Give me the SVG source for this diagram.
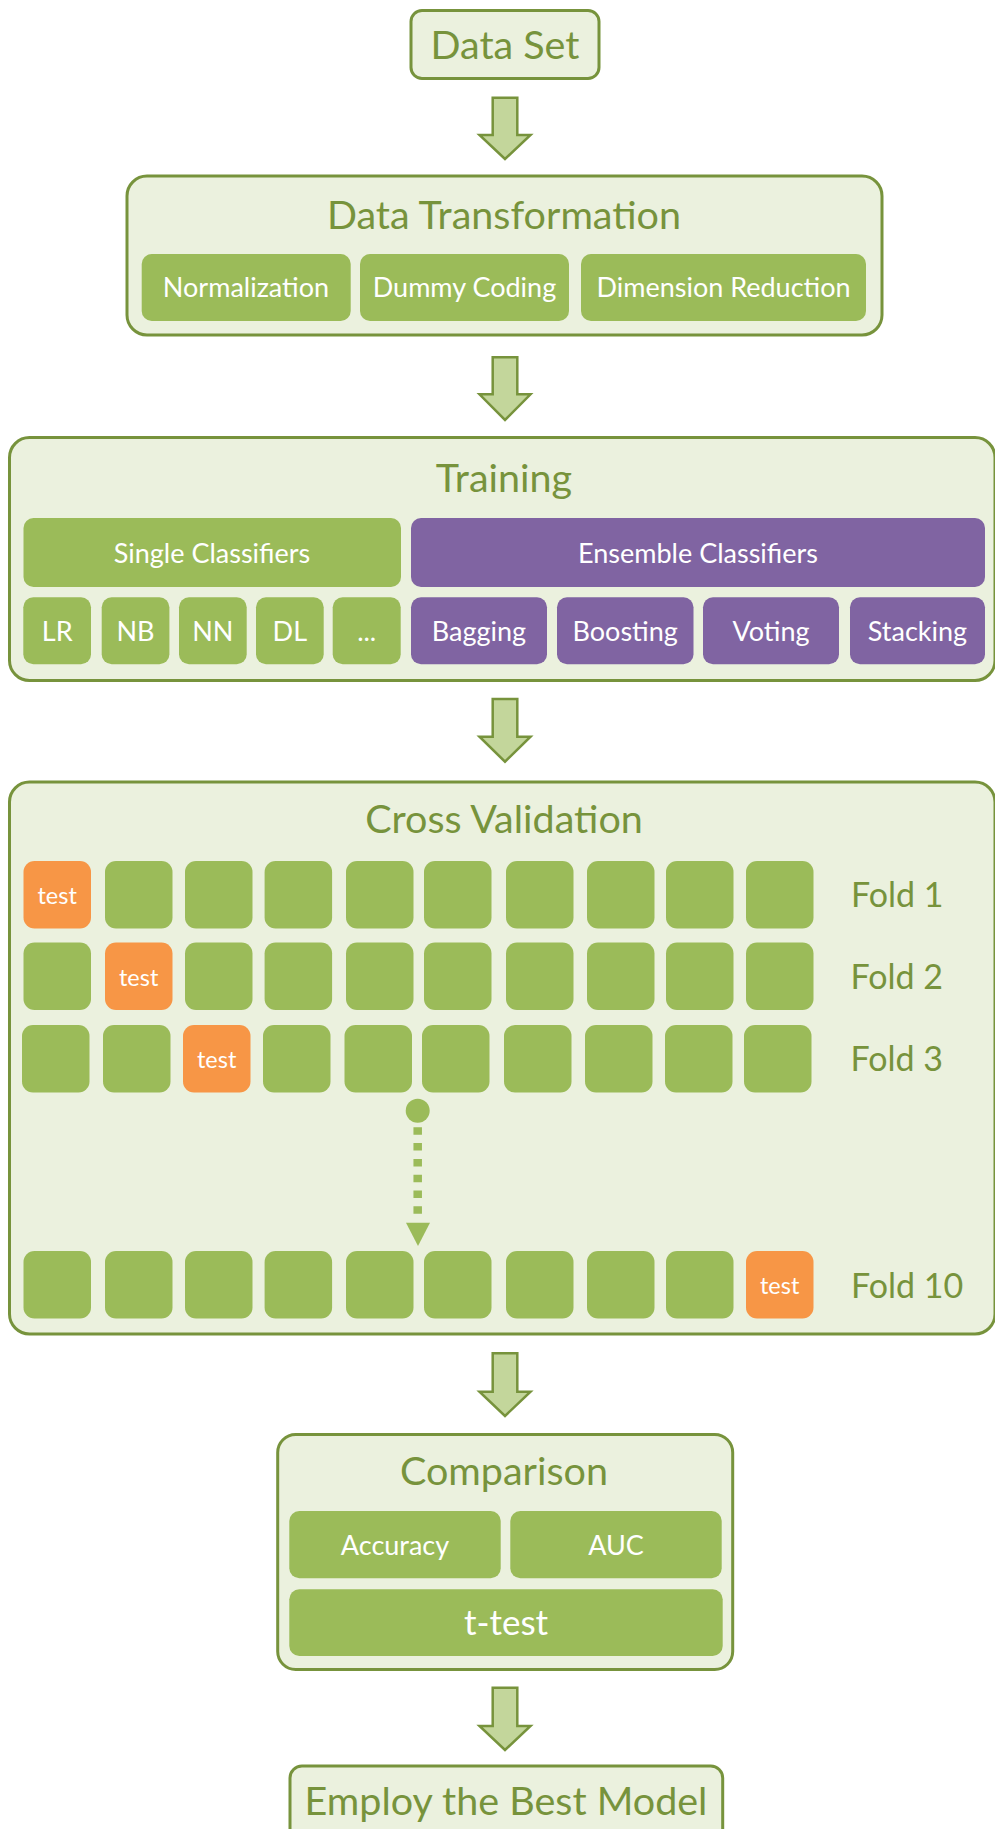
<svg xmlns="http://www.w3.org/2000/svg" width="995" height="1829" viewBox="0 0 995 1829">
<style>
  .panel { fill: #EBF1DE; stroke: #77933C; stroke-width: 3; }
  .g { fill: #9BBB59; }
  .p { fill: #8064A2; }
  .o { fill: #F79646; }
  .title { font-family: Lato, "Open Sans", sans-serif; fill: #77933C; text-anchor: middle; font-size: 39.5px; }
  .lbl { font-family: Lato, "Open Sans", sans-serif; fill: #FFFFFF; text-anchor: middle; font-size: 27px; }
  .big { font-family: Lato, "Open Sans", sans-serif; fill: #FFFFFF; text-anchor: middle; font-size: 35px; }
  .test { font-family: Lato, "Open Sans", sans-serif; fill: #FFFFFF; text-anchor: middle; font-size: 23.5px; }
  .fold { font-family: Lato, "Open Sans", sans-serif; fill: #77933C; font-size: 34px; }
  .arrow { fill: #C3D69B; stroke: #77933C; stroke-width: 2.5; stroke-linejoin: miter; }
</style>
<rect width="995" height="1829" fill="#FFFFFF"/>

<g id="connectors">
  <polygon class="arrow" points="492.7,97.7 517.3,97.7 517.3,135 530.5,135 505,159 479.5,135 492.7,135"/>
  <polygon class="arrow" points="492.7,357.3 517.3,357.3 517.3,394.3 530.5,394.3 505,420 479.5,394.3 492.7,394.3"/>
  <polygon class="arrow" points="492.7,699 517.3,699 517.3,736.7 530.5,736.7 505,761.7 479.5,736.7 492.7,736.7"/>
  <polygon class="arrow" points="492.7,1353.3 517.3,1353.3 517.3,1391.7 530.5,1391.7 505,1416 479.5,1391.7 492.7,1391.7"/>
  <polygon class="arrow" points="492.7,1687.7 517.3,1687.7 517.3,1726 530.5,1726 505,1750 479.5,1726 492.7,1726"/>
</g>

<g id="data-set">
  <rect class="panel" x="411" y="10.5" width="188" height="68" rx="11"/>
  <text class="title" x="505" y="59">Data Set</text>
</g>

<g id="data-transformation">
  <rect class="panel" x="127" y="176" width="755" height="159" rx="20"/>
  <text class="title" x="504" y="229">Data Transformation</text>
  <g id="normalization">
    <rect class="g" x="141.7" y="254" width="209" height="67" rx="10"/>
    <text class="lbl" x="246" y="297">Normalization</text>
  </g>
  <g id="dummy-coding">
    <rect class="g" x="360" y="254" width="209" height="67" rx="10"/>
    <text class="lbl" x="464.5" y="297">Dummy Coding</text>
  </g>
  <g id="dimension-reduction">
    <rect class="g" x="581" y="254" width="285" height="67" rx="10"/>
    <text class="lbl" x="723.5" y="297">Dimension Reduction</text>
  </g>
</g>

<g id="training">
  <rect class="panel" x="9.5" y="437.5" width="985.5" height="243" rx="20"/>
  <text class="title" x="504" y="492">Training</text>
  <g id="single-classifiers">
    <rect class="g" x="23.5" y="518" width="377.5" height="69" rx="10"/>
    <text class="lbl" x="212" y="563">Single Classifiers</text>
  </g>
  <g id="ensemble-classifiers">
    <rect class="p" x="411" y="518" width="574" height="69" rx="10"/>
    <text class="lbl" x="698" y="563">Ensemble Classifiers</text>
  </g>
  <g id="lr"><rect class="g" x="23.3" y="597.3" width="67.7" height="67" rx="10"/><text class="lbl" x="57.2" y="641">LR</text></g>
  <g id="nb"><rect class="g" x="101.7" y="597.3" width="67.7" height="67" rx="10"/><text class="lbl" x="135.5" y="641">NB</text></g>
  <g id="nn"><rect class="g" x="179" y="597.3" width="67.7" height="67" rx="10"/><text class="lbl" x="212.8" y="641">NN</text></g>
  <g id="dl"><rect class="g" x="256" y="597.3" width="67.7" height="67" rx="10"/><text class="lbl" x="289.8" y="641">DL</text></g>
  <g id="etc"><rect class="g" x="332.7" y="597.3" width="68" height="67" rx="10"/><text class="lbl" x="366.7" y="641">...</text></g>
  <g id="bagging"><rect class="p" x="411" y="597.3" width="136" height="67" rx="10"/><text class="lbl" x="479" y="641">Bagging</text></g>
  <g id="boosting"><rect class="p" x="557" y="597.3" width="136.5" height="67" rx="10"/><text class="lbl" x="625.2" y="641">Boosting</text></g>
  <g id="voting"><rect class="p" x="703" y="597.3" width="136" height="67" rx="10"/><text class="lbl" x="771" y="641">Voting</text></g>
  <g id="stacking"><rect class="p" x="850" y="597.3" width="135" height="67" rx="10"/><text class="lbl" x="917.5" y="641">Stacking</text></g>
</g>

<g id="cross-validation">
  <rect class="panel" x="9.5" y="782" width="985.5" height="552" rx="20"/>
  <text class="title" x="504" y="833">Cross Validation</text>

  <g id="fold-1">
    <rect class="o" x="23.5" y="861" width="67.5" height="67.5" rx="11"/>
    <text class="test" x="57.2" y="904">test</text>
    <rect class="g" x="105" y="861" width="67.5" height="67.5" rx="11"/>
    <rect class="g" x="185" y="861" width="67.5" height="67.5" rx="11"/>
    <rect class="g" x="264.6" y="861" width="67.5" height="67.5" rx="11"/>
    <rect class="g" x="346" y="861" width="67.5" height="67.5" rx="11"/>
    <rect class="g" x="424" y="861" width="67.5" height="67.5" rx="11"/>
    <rect class="g" x="506" y="861" width="67.5" height="67.5" rx="11"/>
    <rect class="g" x="587" y="861" width="67.5" height="67.5" rx="11"/>
    <rect class="g" x="666" y="861" width="67.5" height="67.5" rx="11"/>
    <rect class="g" x="746" y="861" width="67.5" height="67.5" rx="11"/>
    <text class="fold" x="851" y="906.7">Fold 1</text>
  </g>

  <g id="fold-2">
    <rect class="g" x="23.5" y="942.5" width="67.5" height="67.5" rx="11"/>
    <rect class="o" x="105" y="942.5" width="67.5" height="67.5" rx="11"/>
    <text class="test" x="138.7" y="986">test</text>
    <rect class="g" x="185" y="942.5" width="67.5" height="67.5" rx="11"/>
    <rect class="g" x="264.6" y="942.5" width="67.5" height="67.5" rx="11"/>
    <rect class="g" x="346" y="942.5" width="67.5" height="67.5" rx="11"/>
    <rect class="g" x="424" y="942.5" width="67.5" height="67.5" rx="11"/>
    <rect class="g" x="506" y="942.5" width="67.5" height="67.5" rx="11"/>
    <rect class="g" x="587" y="942.5" width="67.5" height="67.5" rx="11"/>
    <rect class="g" x="666" y="942.5" width="67.5" height="67.5" rx="11"/>
    <rect class="g" x="746" y="942.5" width="67.5" height="67.5" rx="11"/>
    <text class="fold" x="850.5" y="989">Fold 2</text>
  </g>

  <g id="fold-3">
    <rect class="g" x="22" y="1025" width="67.5" height="67.5" rx="11"/>
    <rect class="g" x="103" y="1025" width="67.5" height="67.5" rx="11"/>
    <rect class="o" x="183" y="1025" width="67.5" height="67.5" rx="11"/>
    <text class="test" x="216.7" y="1068">test</text>
    <rect class="g" x="263" y="1025" width="67.5" height="67.5" rx="11"/>
    <rect class="g" x="344.5" y="1025" width="67.5" height="67.5" rx="11"/>
    <rect class="g" x="422" y="1025" width="67.5" height="67.5" rx="11"/>
    <rect class="g" x="504" y="1025" width="67.5" height="67.5" rx="11"/>
    <rect class="g" x="585" y="1025" width="67.5" height="67.5" rx="11"/>
    <rect class="g" x="665" y="1025" width="67.5" height="67.5" rx="11"/>
    <rect class="g" x="744" y="1025" width="67.5" height="67.5" rx="11"/>
    <text class="fold" x="850.5" y="1071">Fold 3</text>
  </g>

  <g id="fold-10">
    <rect class="g" x="23.5" y="1251" width="67.5" height="67.5" rx="11"/>
    <rect class="g" x="105" y="1251" width="67.5" height="67.5" rx="11"/>
    <rect class="g" x="185" y="1251" width="67.5" height="67.5" rx="11"/>
    <rect class="g" x="264.6" y="1251" width="67.5" height="67.5" rx="11"/>
    <rect class="g" x="346" y="1251" width="67.5" height="67.5" rx="11"/>
    <rect class="g" x="424" y="1251" width="67.5" height="67.5" rx="11"/>
    <rect class="g" x="506" y="1251" width="67.5" height="67.5" rx="11"/>
    <rect class="g" x="587" y="1251" width="67.5" height="67.5" rx="11"/>
    <rect class="g" x="666" y="1251" width="67.5" height="67.5" rx="11"/>
    <rect class="o" x="746" y="1251" width="67.5" height="67.5" rx="11"/>
    <text class="test" x="779.7" y="1294">test</text>
    <text class="fold" x="851" y="1298">Fold 10</text>
  </g>

  <g id="ellipsis-arrow">
    <circle cx="417.7" cy="1110.7" r="12" fill="#9BBB59"/>
    <line x1="417.7" y1="1127.3" x2="417.7" y2="1215" stroke="#9BBB59" stroke-width="8.5" stroke-dasharray="7.5 8.3"/>
    <polygon points="406,1222.7 430,1222.7 418,1246" fill="#9BBB59"/>
  </g>
</g>

<g id="comparison">
  <rect class="panel" x="277.7" y="1434.5" width="455" height="235" rx="18"/>
  <text class="title" x="504" y="1485">Comparison</text>
  <g id="accuracy"><rect class="g" x="289.3" y="1511" width="211.4" height="67.3" rx="10"/><text class="lbl" x="395" y="1555">Accuracy</text></g>
  <g id="auc"><rect class="g" x="510.3" y="1511" width="211.4" height="67.3" rx="10"/><text class="lbl" x="616" y="1555">AUC</text></g>
  <g id="t-test"><rect class="g" x="289.3" y="1589.3" width="433.4" height="66.7" rx="10"/><text class="big" x="506" y="1635">t-test</text></g>
</g>

<g id="employ-best-model">
  <rect class="panel" x="290" y="1766" width="432.7" height="80" rx="12"/>
  <text class="title" x="506" y="1815">Employ the Best Model</text>
</g>
</svg>
